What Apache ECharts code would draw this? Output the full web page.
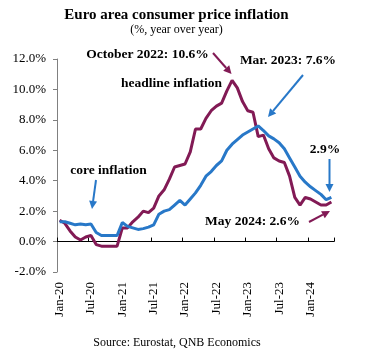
<!DOCTYPE html>
<html>
<head>
<meta charset="utf-8">
<script src="https://cdn.jsdelivr.net/npm/echarts@6/dist/echarts.min.js"></script>
<style>
html,body{margin:0;padding:0;background:#fff;}
#chart{width:365px;height:358px;}
</style>
</head>
<body>
<div id="chart"></div>
<script>
var months = [
 'Jan-20','Feb-20','Mar-20','Apr-20','May-20','Jun-20','Jul-20','Aug-20','Sep-20','Oct-20','Nov-20','Dec-20',
 'Jan-21','Feb-21','Mar-21','Apr-21','May-21','Jun-21','Jul-21','Aug-21','Sep-21','Oct-21','Nov-21','Dec-21',
 'Jan-22','Feb-22','Mar-22','Apr-22','May-22','Jun-22','Jul-22','Aug-22','Sep-22','Oct-22','Nov-22','Dec-22',
 'Jan-23','Feb-23','Mar-23','Apr-23','May-23','Jun-23','Jul-23','Aug-23','Sep-23','Oct-23','Nov-23','Dec-23',
 'Jan-24','Feb-24','Mar-24','Apr-24','May-24'
];
var headline = [
 1.4,1.2,0.7,0.3,0.1,0.3,0.4,-0.2,-0.3,-0.3,-0.3,-0.3,
 0.9,0.9,1.3,1.6,2.0,1.9,2.2,3.0,3.4,4.1,4.9,5.0,
 5.1,5.9,7.4,7.4,8.1,8.6,8.9,9.1,9.9,10.6,10.1,9.2,
 8.6,8.5,6.9,7.0,6.1,5.5,5.3,5.2,4.3,2.9,2.4,2.9,
 2.8,2.6,2.4,2.4,2.6
];
var core = [
 1.3,1.3,1.2,1.1,1.15,1.1,1.15,0.6,0.4,0.4,0.4,0.4,
 1.25,1.0,0.9,0.8,0.85,0.95,1.1,1.8,2.0,2.1,2.4,2.7,
 2.4,2.8,3.2,3.7,4.3,4.6,5.0,5.3,6.0,6.4,6.7,7.0,
 7.2,7.4,7.6,7.3,6.95,6.75,6.5,6.1,5.5,4.9,4.3,3.9,
 3.6,3.35,3.1,2.75,2.9
];
var yTicks = [-2,0,2,4,6,8,10,12];

var SERIF = "'Liberation Serif','Times New Roman',serif";
var MAROON = '#821a55';
var BLUE = '#2878c8';

function arrow(x1,y1,x2,y2,color){
  var dx=x2-x1, dy=y2-y1, L=Math.sqrt(dx*dx+dy*dy), ux=dx/L, uy=dy/L;
  var hl=8, hw=4;
  var bx=x2-ux*hl, by=y2-uy*hl;
  return [
    {type:'line', shape:{x1:x1,y1:y1,x2:bx,y2:by}, style:{stroke:color,lineWidth:2}, z:10},
    {type:'polygon', shape:{points:[[x2,y2],[bx-uy*hw,by+ux*hw],[bx+uy*hw,by-ux*hw]]}, style:{fill:color}, z:10}
  ];
}
function label(text,cx,cy){
  return {type:'text', x:cx, y:cy, style:{text:text, fill:'#000', font:'bold 13.5px '+SERIF, textAlign:'center', textVerticalAlign:'middle'}, z:10};
}

var graphics = [].concat(
  arrow(213,53,231.5,74,MAROON),
  arrow(303,75,268,117,BLUE),
  arrow(329.5,159,329.5,192,BLUE),
  arrow(309,222,330,211,MAROON),
  arrow(96,180,92,209,BLUE),
  [
    label('October 2022: 10.6%',147.5,55),
    label('headline inflation',171.5,84),
    label('Mar. 2023: 7.6%',288,61),
    label('2.9%',325,150),
    label('May 2024: 2.6%',252.5,222),
    label('core inflation',108.5,171),
    {type:'text', x:177, y:343, style:{text:'Source: Eurostat, QNB Economics', fill:'#000', font:'12px '+SERIF, textAlign:'center', textVerticalAlign:'middle'}}
  ]
);

var chart = echarts.init(document.getElementById('chart'), null, {renderer:'canvas'});
chart.setOption({
  backgroundColor:'#fff',
  animation:false,
  title:[
    {text:'Euro area consumer price inflation', left:171.5, top:3, textAlign:'center',
     textStyle:{fontFamily:SERIF, fontWeight:'bold', fontSize:15, color:'#000'}},
    {text:'(%, year over year)', left:171.5, top:19, textAlign:'center',
     textStyle:{fontFamily:SERIF, fontWeight:'normal', fontSize:12, color:'#000'}}
  ],
  grid:{left:57, right:31, top:59, bottom:86, containLabel:false},
  xAxis:{
    type:'category', data:months, boundaryGap:true,
    axisLine:{onZero:true, lineStyle:{color:'#000', width:1}},
    axisTick:{show:true, inside:true, length:4, interval:5, lineStyle:{color:'#000'}},
    axisLabel:{interval:5, rotate:90, margin:10, fontFamily:SERIF, fontSize:13, color:'#000'},
    splitLine:{show:false}
  },
  yAxis:{
    type:'value', min:yTicks[0], max:yTicks[yTicks.length-1], interval:2,
    axisLine:{show:true, lineStyle:{color:'#808080', width:1}},
    axisTick:{show:true, inside:false, length:4, lineStyle:{color:'#808080'}},
    axisLabel:{margin:11, fontFamily:SERIF, fontSize:13, color:'#000',
      formatter:function(v){return v.toFixed(1)+'%';}},
    splitLine:{show:false}
  },
  series:[
    {name:'headline inflation', type:'line', data:headline, symbol:'none', smooth:false,
     lineStyle:{color:MAROON, width:3}, itemStyle:{color:MAROON}, z:2},
    {name:'core inflation', type:'line', data:core, symbol:'none', smooth:false,
     lineStyle:{color:BLUE, width:3}, itemStyle:{color:BLUE}, z:3}
  ],
  graphic:graphics
});
</script>
</body>
</html>
